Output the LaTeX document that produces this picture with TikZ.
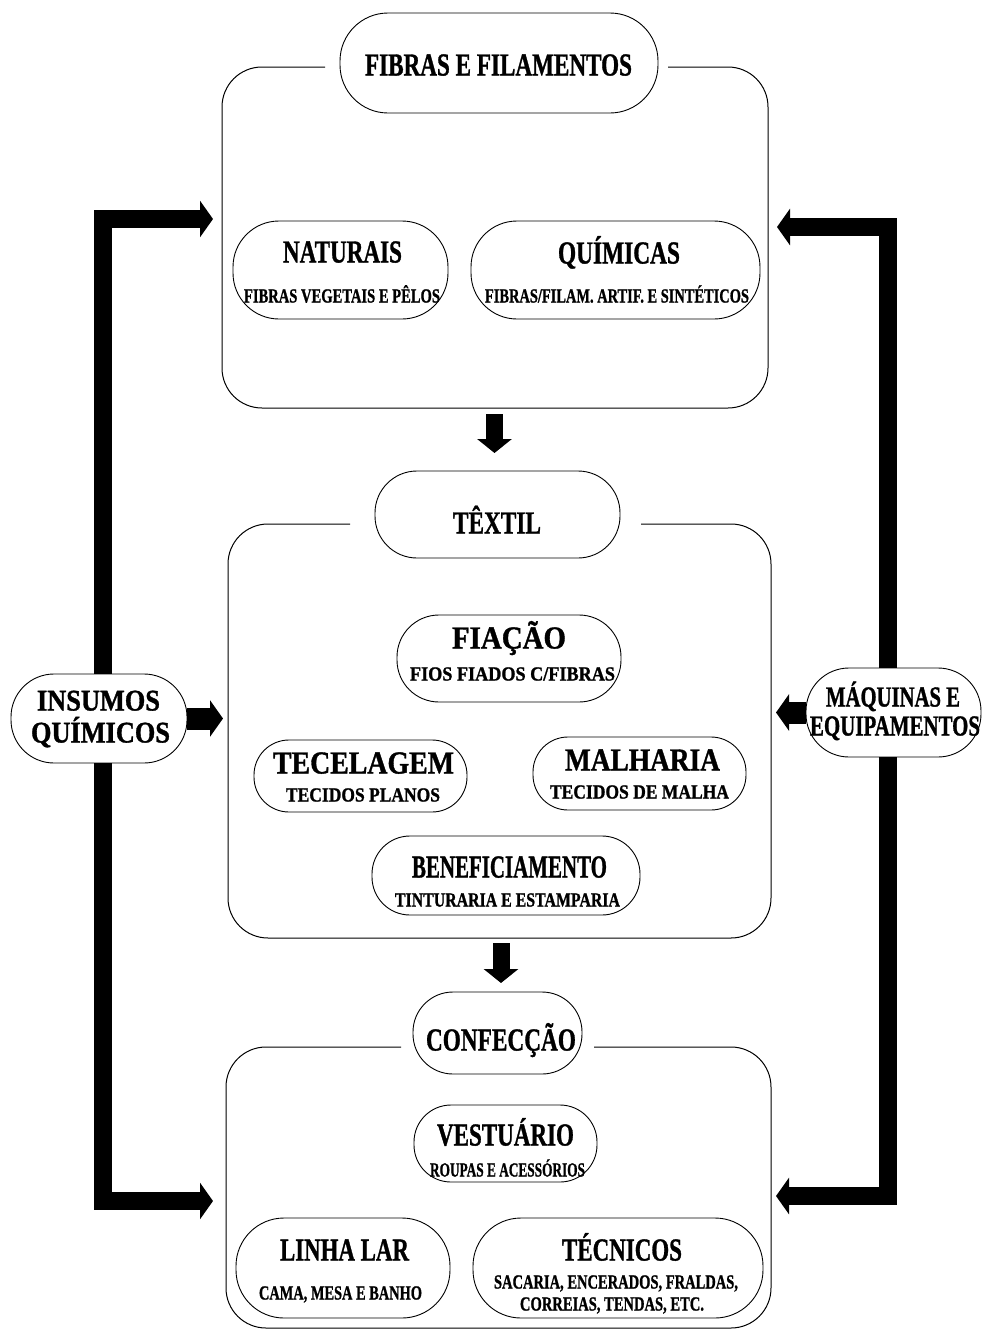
\documentclass[tikz,border=0pt]{standalone}
\usepackage{fontspec}
\setmainfont{Liberation Serif}[BoldFeatures={FakeBold=1.2}]
\usepackage{graphicx}
\usetikzlibrary{arrows.meta}
\newcommand\fitt[3]{\resizebox{#1pt}{\height}{\fontsize{#2}{#2}\selectfont\bfseries #3}}
\begin{document}
\begin{tikzpicture}[x=1pt,y=-1pt,
  frame/.style={draw=black, line width=1pt, rounded corners=40pt},
  oval/.style={draw=black, line width=0.9pt, fill=white, rounded corners=#1, inner sep=0pt},
  oval/.default=40pt,
  ttl/.style={inner sep=0pt, text height=21pt, text depth=0pt},
  sub/.style={inner sep=0pt, text height=13pt, text depth=0pt},
  fat/.style={draw=black, line width=18pt, line join=miter, -{Triangle[length=13pt,width=36pt]}},
  down/.style={draw=black, line width=17pt, -{Triangle[length=14pt,width=34pt]}}
]
\useasboundingbox (0,0) rectangle (983,1333);

% frames
\draw[frame] (325,67) -- (222,67) -- (222,408) -- (768,408) -- (768,67) -- (668,67);
\draw[frame] (350,524) -- (228,524) -- (228,938) -- (771,938) -- (771,524) -- (641,524);
\draw[frame] (401,1047) -- (226,1047) -- (226,1328) -- (771,1328) -- (771,1047) -- (594,1047);

% ovals
\node[oval=48pt, minimum width=318pt, minimum height=100pt] (fib) at (499,63) {};
\node[oval=46pt, minimum width=215pt, minimum height=98pt] (nat) at (340.5,270) {};
\node[oval=46pt, minimum width=289pt, minimum height=98pt] (qui) at (615.5,270) {};
\node[oval=42pt, minimum width=245pt, minimum height=87pt] (tex) at (497.5,514.5) {};
\node[oval=42pt, minimum width=224pt, minimum height=87pt] (fia) at (509,658.5) {};
\node[oval=35pt, minimum width=213pt, minimum height=72pt] (tec) at (360.5,776) {};
\node[oval=35pt, minimum width=213pt, minimum height=73pt] (mal) at (639.5,773.5) {};
\node[oval=38pt, minimum width=268pt, minimum height=79pt] (ben) at (506,875.5) {};
\node[oval=40pt, minimum width=169pt, minimum height=82pt] (con) at (497.5,1033) {};
\node[oval=37pt, minimum width=183pt, minimum height=77pt] (ves) at (505.5,1143.5) {};
\node[oval=48pt, minimum width=214pt, minimum height=100pt] (lin) at (343,1268) {};
\node[oval=48pt, minimum width=290pt, minimum height=100pt] (tcn) at (618,1268) {};
\node[oval=43pt, minimum width=176pt, minimum height=89pt] (ins) at (99,718.5) {};
\node[oval=43pt, minimum width=175pt, minimum height=89pt] (maq) at (893.5,712.5) {};

% texts
\node[ttl] (fibt) at (498.5,65) {\fitt{267}{32}{FIBRAS E FILAMENTOS}};
\node[ttl] (natt) at (342.5,252) {\fitt{119}{32}{NATURAIS}};
\node[sub] (nats) at (342,296) {\fitt{196}{20}{FIBRAS VEGETAIS E PÊLOS}};
\node[ttl] (quit) at (619,253) {\fitt{122}{32}{QUÍMICAS}};
\node[sub] (quis) at (617,296) {\fitt{264}{20}{FIBRAS/FILAM. ARTIF. E SINTÉTICOS}};
\node[ttl] (text) at (497,523) {\fitt{88}{32}{TÊXTIL}};
\node[ttl] (fiat) at (509,638) {\fitt{114}{32}{FIAÇÃO}};
\node[sub] (fias) at (512.5,674) {\fitt{205}{20}{FIOS FIADOS C/FIBRAS}};
\node[ttl] (tect) at (363.5,763) {\fitt{181}{32}{TECELAGEM}};
\node[sub] (tecs) at (363,795) {\fitt{154}{20}{TECIDOS PLANOS}};
\node[ttl] (malt) at (642.5,760) {\fitt{155}{32}{MALHARIA}};
\node[sub] (mals) at (639.5,792) {\fitt{179}{20}{TECIDOS DE MALHA}};
\node[ttl] (bent) at (509.5,867) {\fitt{195}{32}{BENEFICIAMENTO}};
\node[sub] (bens) at (507.5,900) {\fitt{225}{20}{TINTURARIA E ESTAMPARIA}};
\node[ttl] (cont) at (501,1040) {\fitt{150}{32}{CONFECÇÃO}};
\node[ttl] (vest) at (505.5,1135) {\fitt{137}{32}{VESTUÁRIO}};
\node[sub] (vess) at (507.5,1170) {\fitt{155}{20}{ROUPAS E ACESSÓRIOS}};
\node[ttl] (lint) at (344.5,1250) {\fitt{129}{32}{LINHA LAR}};
\node[sub] (lins) at (340.5,1293) {\fitt{163}{20}{CAMA, MESA E BANHO}};
\node[ttl] (tcnt) at (622,1250) {\fitt{120}{32}{TÉCNICOS}};
\node[sub] (tcns1) at (616,1282) {\fitt{244}{20}{SACARIA, ENCERADOS, FRALDAS,}};
\node[sub] (tcns2) at (612,1304) {\fitt{184}{20}{CORREIAS, TENDAS, ETC.}};
\node[ttl] (inst1) at (98.5,700) {\fitt{123}{30}{INSUMOS}};
\node[ttl] (inst2) at (100.5,732) {\fitt{139}{30}{QUÍMICOS}};
\node[ttl] (maqt1) at (893,696) {\fitt{134}{29}{MÁQUINAS E}};
\node[ttl] (maqt2) at (895,725) {\fitt{170}{29}{EQUIPAMENTOS}};

% arrow end points
\coordinate (d1s) at (494.5,414);
\coordinate (d1e) at (494.5,453);
\coordinate (d2s) at (501,943);
\coordinate (d2e) at (501,983);
\coordinate (L1) at (213,219);
\coordinate (L2) at (213,1201);
\coordinate (L3) at (223,718.5);
\coordinate (R1) at (777,227);
\coordinate (R2) at (776,1196);
\coordinate (R3) at (776,712.5);

\draw[down] (d1s) -- (d1e);
\draw[down] (d2s) -- (d2e);
\draw[fat] ([xshift=4pt]ins.north) |- (L1);
\draw[fat] ([xshift=4pt]ins.south) |- (L2);
\draw[fat, line width=22pt] (ins.east) -- (L3);
\draw[fat] ([xshift=-5.5pt]maq.north) |- (R1);
\draw[fat] ([xshift=-5.5pt]maq.south) |- (R2);
\draw[fat, line width=22pt] (maq.west) -- (R3);
\end{tikzpicture}
\end{document}
